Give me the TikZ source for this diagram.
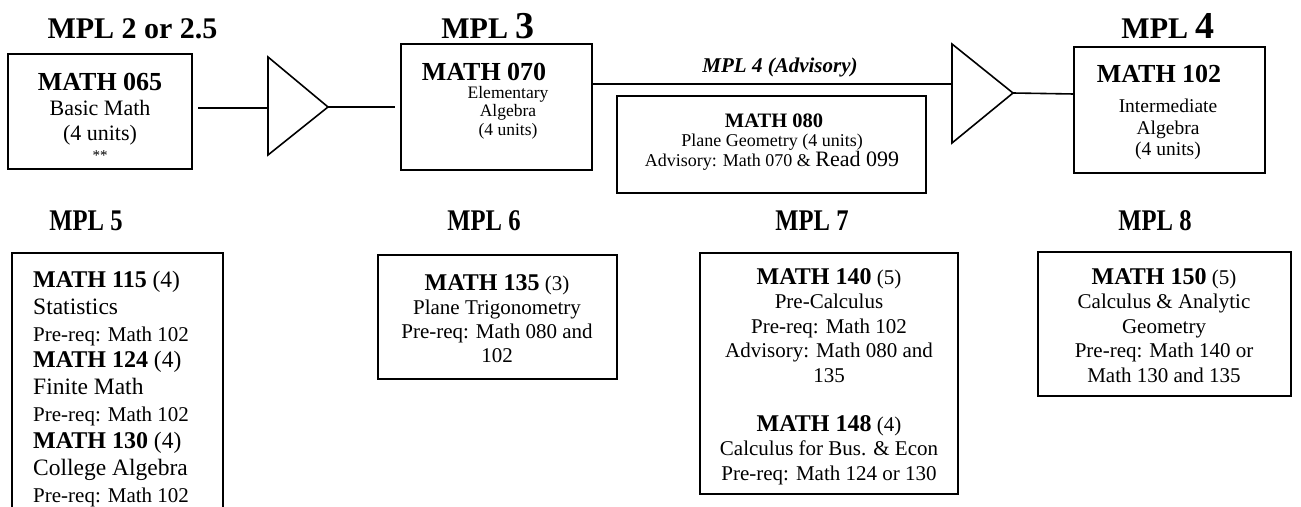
\documentclass[tikz,border=0pt]{standalone}
\usepackage{fontspec}
\setmainfont{Liberation Serif}
\newcommand{\myfs}[2]{\fontsize{#1}{#2}\selectfont}
\newcommand{\narrowhdr}[1]{\scalebox{0.82}[1]{#1}}
\begin{document}
\begin{tikzpicture}[x=1pt,y=-1pt,
  boxframe/.style={draw, line width=1.8pt, inner sep=0pt, outer sep=0pt, anchor=north west},
  conn/.style={line width=1.6pt},
  tri/.style={line width=1.6pt},
  hdr/.style={inner sep=0pt, anchor=base, font=\myfs{30}{36}\bfseries},
  txt/.style={inner sep=0pt, align=center, anchor=north},
  ttl/.style={inner sep=0pt, anchor=base}]
\useasboundingbox (0,0) rectangle (1301,506);

% headers
\node[hdr] (h2) at (132.5,38) {MPL 2 or 2.5};
\node[hdr] (h3) at (488,38) {MPL {\myfs{38}{40}3}};
\node[hdr] (h4) at (1168,38) {MPL {\myfs{38}{40}4}};
\node[hdr] (h5) at (86,230) {\narrowhdr{MPL 5}};
\node[hdr] (h6) at (484,230) {\narrowhdr{MPL 6}};
\node[hdr] (h7) at (812,230) {\narrowhdr{MPL 7}};
\node[hdr] (h8) at (1155,230) {\narrowhdr{MPL 8}};
\node[ttl, font=\myfs{21}{24}\bfseries\itshape] (adv) at (780,72) {MPL 4 (Advisory)};

% top boxes
\node[boxframe, minimum width=184pt, minimum height=115pt] (b065) at (8,54) {};
\node[boxframe, minimum width=191pt, minimum height=126pt] (b070) at (401,44) {};
\node[boxframe, minimum width=309pt, minimum height=97pt] (b080) at (617,96) {};
\node[boxframe, minimum width=191pt, minimum height=126pt] (b102) at (1074,47) {};

\node[ttl, font=\myfs{26}{26}\bfseries] (t065) at (100,90) {MATH 065};
\node[txt, font=\myfs{22}{25}] (d065) at (100,100) {Basic Math\\(4 units)\\[-5pt]{\myfs{15}{25}**}};

\node[ttl, font=\myfs{26}{26}\bfseries] (t070) at (484,80) {MATH 070};
\node[txt, font=\myfs{17.5}{18.5}] (d070) at (508,86) {Elementary\\Algebra\\(4 units)};

\node[ttl, font=\myfs{20.5}{20}\bfseries] (t080) at (774,127) {MATH 080};
\node[txt, font=\myfs{18}{17.5}] (d080) at (772,134) {Plane Geometry (4 units)\\Advisory: Math 070 \& {\myfs{22}{17.5}Read 099}};

\node[ttl, font=\myfs{26}{26}\bfseries] (t102) at (1159,82) {MATH 102};
\node[txt, font=\myfs{19.5}{21.5}] (d102) at (1168,99) {Intermediate\\Algebra\\(4 units)};

% triangles
\coordinate (p1a) at (268,57);
\coordinate (p1b) at (268,155);
\coordinate (p1c) at (328,107);
\draw[tri] (p1a) -- (p1b) -- (p1c) -- cycle;
\coordinate (p2a) at (952,44);
\coordinate (p2b) at (952,143);
\coordinate (p2c) at (1013,93);
\draw[tri] (p2a) -- (p2b) -- (p2c) -- cycle;

% connectors
\coordinate (c1s) at (198,108);
\coordinate (c1e) at (268,108);
\draw[conn] (c1s) -- (c1e);
\coordinate (c2e) at (395,107);
\draw[conn] (p1c) -- (c2e);
\coordinate (c3s) at (592,84);
\coordinate (c3e) at (952,84);
\draw[conn] (c3s) -- (c3e);
\draw[conn] (p2c) -- (b102.west |- 0,94);

% bottom boxes
\draw[line width=1.8pt] (12,508) -- (12,253) -- (223,253) -- (223,508);
\node[inner sep=0pt, align=left, anchor=north west, font=\myfs{23.5}{26.9}] (d5) at (33,270.7) {%
{\myfs{24}{26.9}\bfseries MATH 115} (4)\\
Statistics\\
{\myfs{21}{26.9}Pre-req: Math 102}\\
{\myfs{24}{26.9}\bfseries MATH 124} (4)\\
Finite Math\\
{\myfs{21}{26.9}Pre-req: Math 102}\\
{\myfs{24}{26.9}\bfseries MATH 130} (4)\\
College Algebra\\
{\myfs{21}{26.9}Pre-req: Math 102}};

\node[boxframe, minimum width=239pt, minimum height=124pt] (b6) at (378,255) {};
\node[txt, font=\myfs{21}{24}] (d6) at (497,274) {{\myfs{24}{24}\bfseries MATH 135} (3)\\Plane Trigonometry\\Pre-req: Math 080 and\\102};

\node[boxframe, minimum width=258pt, minimum height=241pt] (b7) at (700,253) {};
\node[txt, font=\myfs{21}{24.5}] (d7) at (829,268) {{\myfs{24}{24.5}\bfseries MATH 140} (5)\\Pre-Calculus\\Pre-req: Math 102\\Advisory: Math 080 and\\135\\[24.5pt]{\myfs{24}{24.5}\bfseries MATH 148} (4)\\Calculus for Bus. \& Econ\\Pre-req: Math 124 or 130};

\node[boxframe, minimum width=253pt, minimum height=144pt] (b8) at (1038,252) {};
\node[txt, font=\myfs{21}{24.5}] (d8) at (1164,268) {{\myfs{24}{24.5}\bfseries MATH 150} (5)\\Calculus \& Analytic\\Geometry\\Pre-req: Math 140 or\\Math 130 and 135};
\end{tikzpicture}
\end{document}
